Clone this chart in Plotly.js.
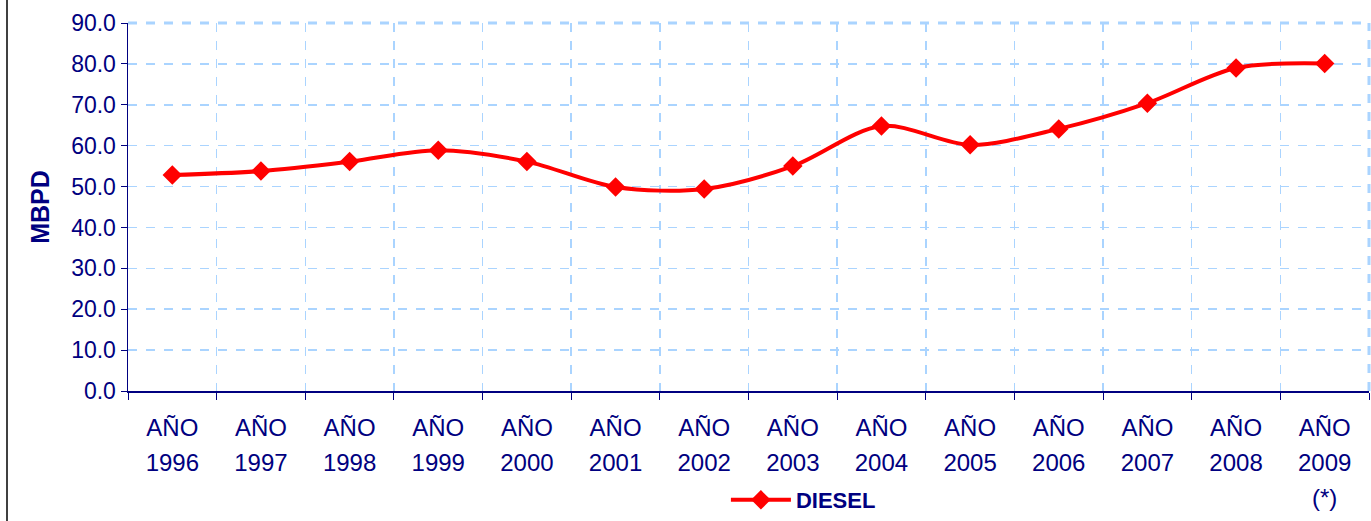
<!DOCTYPE html>
<html>
<head>
<meta charset="utf-8">
<script src="https://cdn.plot.ly/plotly-3.0.1.min.js"></script>
<style>html,body{margin:0;padding:0;background:#fff;}#chart{width:1371px;height:521px;}</style>
</head>
<body>
<div id="chart"></div>
<script>
var years = ["1996","1997","1998","1999","2000","2001","2002","2003","2004","2005","2006","2007","2008","2009"];
var yearNotes = ["","","","","","","","","","","","","","(*)"];
var dieselValues = [52.8, 53.8, 56.1, 58.9, 56.1, 49.9, 49.4, 55.0, 64.8, 60.2, 64.1, 70.4, 79.0, 80.1];
var seriesName = "DIESEL";
var yTitle = "MBPD";
var yTicks = [0,10,20,30,40,50,60,70,80,90];

var navy = "#000080";
var gridColor = "#aad4ff";

function sp(t){ return '<span style="font-size:24px">' + t + '</span>'; }
var tickText = years.map(function(y, i){
  var s = sp("AÑO") + "<br>" + sp(y);
  if (yearNotes[i]) s += "<br>" + sp(yearNotes[i]);
  return s;
});

var trace = {
  type: "scatter",
  mode: "lines+markers",
  name: seriesName,
  x: years,
  y: dieselValues,
  line: {color: "#ff0000", width: 4, shape: "spline", smoothing: 0.9},
  marker: {symbol: "diamond", size: 15, color: "#ff0000"}
};

var layout = {
  width: 1371, height: 521,
  margin: {l: 128, r: 2, t: 23, b: 130, autoexpand: false},
  paper_bgcolor: "#ffffff",
  plot_bgcolor: "#ffffff",
  font: {family: "Liberation Sans, Arial, sans-serif", color: navy, size: 22},
  showlegend: true,
  legend: {
    orientation: "h",
    xref: "container", yref: "container",
    x: 0.586, xanchor: "center", y: 0.0, yanchor: "bottom",
    font: {size: 22, color: navy, family: "Liberation Sans, Arial, sans-serif", weight: "bold"},
    itemwidth: 60
  },
  xaxis: {
    type: "category",
    range: [-0.5, 13.5],
    autorange: false,
    automargin: false,
    tickmode: "array",
    tickvals: years,
    ticktext: tickText,
    tickson: "boundaries",
    ticks: "outside", ticklen: 7, tickcolor: navy, tickwidth: 1,
    showline: true, linecolor: navy, linewidth: 1.5,
    showgrid: true, gridcolor: gridColor, griddash: "dash", gridwidth: 1.5,
    tickfont: {size: 27, color: navy},
    ticklabelstandoff: 11,
    zeroline: false,
    fixedrange: true
  },
  yaxis: {
    range: [0, 90],
    autorange: false,
    automargin: false,
    tickmode: "array",
    tickvals: yTicks,
    ticktext: yTicks.map(function(v){ return v.toFixed(1); }),
    ticks: "outside", ticklen: 6, tickcolor: navy, tickwidth: 1,
    showline: true, linecolor: navy, linewidth: 1.5,
    showgrid: true, gridcolor: gridColor, griddash: "dash", gridwidth: 1.5,
    tickfont: {size: 23, color: navy},
    zeroline: false,
    title: {text: yTitle, font: {size: 25, color: navy, weight: "bold"}, standoff: 14},
    fixedrange: true
  },
  shapes: [
    {type: "line", xref: "paper", yref: "paper", x0: 0, x1: 1, y0: 1, y1: 1,
     line: {color: gridColor, width: 3, dash: "dash"}, layer: "below"},
    {type: "line", xref: "paper", yref: "paper", x0: 1, x1: 1, y0: 0, y1: 1,
     line: {color: gridColor, width: 3, dash: "dash"}, layer: "below"}
  ]
};

Plotly.newPlot("chart", [trace], layout, {displayModeBar: false, staticPlot: true}).then(function(){
  var svg = document.querySelector("#chart .main-svg");
  var ns = "http://www.w3.org/2000/svg";
  var l = document.createElementNS(ns, "line");
  l.setAttribute("x1", 7); l.setAttribute("x2", 7);
  l.setAttribute("y1", 0); l.setAttribute("y2", 521);
  l.setAttribute("stroke", "#000"); l.setAttribute("stroke-width", 1.5);
  svg.appendChild(l);
});
</script>
</body>
</html>
